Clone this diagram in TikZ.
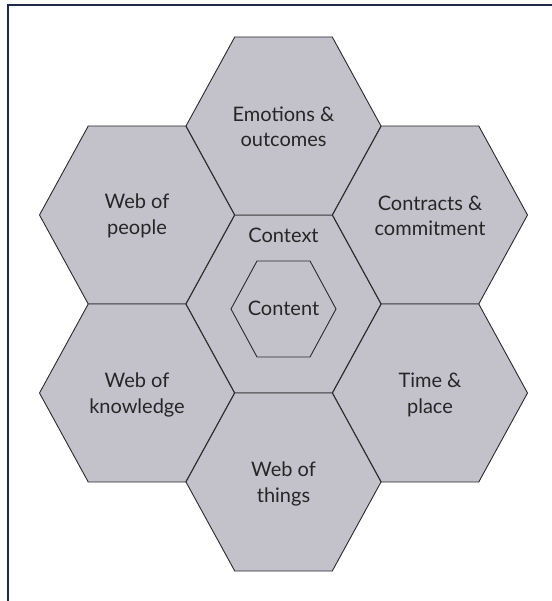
\documentclass[tikz,border=0pt]{standalone}
\usepackage{fontspec}
\setmainfont{Lato}
\definecolor{hexfill}{HTML}{C3C2CB}
\definecolor{hexline}{HTML}{2A2A2A}
\definecolor{txtc}{HTML}{262626}
\definecolor{framec}{HTML}{1F2A48}
\begin{document}
\begin{tikzpicture}[x=1pt,y=-1pt]
\useasboundingbox (0,0) rectangle (551,601);
\tikzset{
  hexcell/.style={fill=hexfill,draw=hexline,line width=0.9pt,line join=miter},
  lbl/.style={font=\fontsize{20}{25.5}\selectfont, align=center, text=txtc, inner sep=0pt},
  framestyle/.style={draw=framec,line width=1.3pt}
}
\draw[framestyle] (8,602) -- (8,5) -- (552,5);
\foreach \cx/\cy in {283.5/304, 283.5/126, 137/215, 430/215, 137/393, 430/393, 283.5/482}{
  \path[hexcell,shift={(\cx,\cy)}] (-97.5,0) -- (-48.75,-89) -- (48.75,-89) -- (97.5,0) -- (48.75,89) -- (-48.75,89) -- cycle;
}
\path[hexcell,shift={(283.5,309)}] (-52.5,0) -- (-26.5,-48) -- (26.5,-48) -- (52.5,0) -- (26.5,48) -- (-26.5,48) -- cycle;
\node[lbl] (emo) at (283.5,127) {Emotions \&\\outcomes};
\node[lbl] (wpeople) at (137,216) {Web of\\people};
\node[lbl] (contracts) at (430,216) {Contracts \&\\commitment};
\node[lbl,anchor=base] (context) at (283.5,243) {Context};
\node[lbl,anchor=base] (content) at (283.5,315) {Content};
\node[lbl] (wknow) at (137,395) {Web of\\knowledge};
\node[lbl] (time) at (430,395) {Time \&\\place};
\node[lbl] (wthings) at (283.5,484) {Web of\\things};
\end{tikzpicture}
\end{document}
